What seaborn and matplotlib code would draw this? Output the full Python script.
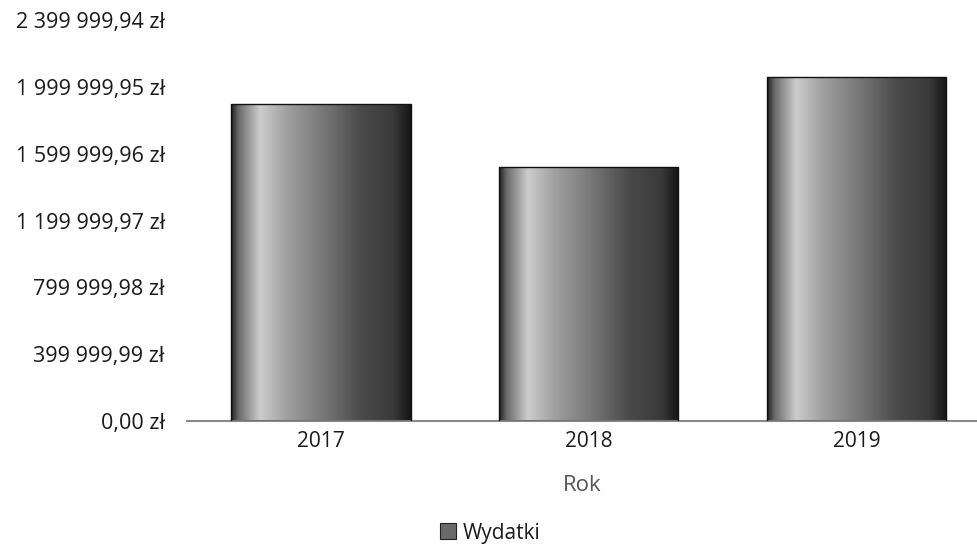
import matplotlib
matplotlib.use("Agg")
import matplotlib.pyplot as plt
import seaborn as sns
import numpy as np
import pandas as pd
from matplotlib.colors import LinearSegmentedColormap
from matplotlib.patches import Patch

years = ["2017", "2018", "2019"]
wydatki = [1895000.0, 1523000.0, 2057000.0]
ytick_values = [0.0, 399999.99, 799999.98, 1199999.97, 1599999.96, 1999999.95, 2399999.94]
ytick_labels = ["0,00 zł", "399 999,99 zł", "799 999,98 zł", "1 199 999,97 zł",
                "1 599 999,96 zł", "1 999 999,95 zł", "2 399 999,94 zł"]
x_title = "Rok"
series_name = "Wydatki"

df = pd.DataFrame({"Rok": years, "Wydatki": wydatki})

sns.set_theme(style="white")
plt.rcParams["font.family"] = ["Open Sans", "DejaVu Sans"]

fig = plt.figure(figsize=(9.77, 5.48), dpi=100)
ax = fig.add_axes([187 / 977, 1 - 421 / 548, 1 - 187 / 977, (421 - 20) / 548])

sns.barplot(data=df, x="Rok", y="Wydatki", color="#555555", width=0.67,
            edgecolor="#111111", linewidth=1.0, ax=ax, zorder=2)

cmap = LinearSegmentedColormap.from_list("bar", [
    (0.0, "#202020"), (0.04, "#6a6a6a"), (0.16, "#cdcdcd"), (0.3, "#a2a2a2"),
    (0.5, "#7a7a7a"), (0.72, "#4a4a4a"), (0.9, "#3a3a3a"), (1.0, "#151515")])
grad = np.linspace(0, 1, 256).reshape(1, -1)
for p in ax.patches:
    x0, y0 = p.get_x(), p.get_y()
    w, h = p.get_width(), p.get_height()
    im = ax.imshow(grad, cmap=cmap, extent=[x0, x0 + w, y0, y0 + h],
                   aspect="auto", zorder=2.5, interpolation="bicubic")
    im.set_clip_path(p)
    p.set_facecolor("none")
    p.set_zorder(3)

ax.set_xlim(-0.5, 2.45)
ax.set_ylim(0, 2399999.94)
ax.set_yticks(ytick_values)
ax.set_yticklabels(ytick_labels)
ax.tick_params(axis="y", length=0, pad=16, labelsize=15.5, labelcolor="#1a1a1a")
ax.tick_params(axis="x", length=0, pad=7, labelsize=15, labelcolor="#1a1a1a")
ax.set_xlabel(x_title, fontsize=16, color="#555555", labelpad=17)
ax.set_ylabel("")
for s in ["top", "right", "left"]:
    ax.spines[s].set_visible(False)
ax.spines["bottom"].set_color("#8a8a8a")
ax.spines["bottom"].set_linewidth(1.5)
ax.grid(False)

handle = Patch(facecolor="#6a6a6a", edgecolor="#222222", linewidth=0.8)
fig.legend([handle], [series_name], loc="center", bbox_to_anchor=(490 / 977, 1 - 533 / 548),
           frameon=False, handlelength=0.8, handleheight=0.8, handletextpad=0.3,
           fontsize=15, labelcolor="#1a1a1a", borderpad=0.1)

fig.savefig("out.png", dpi=100)
